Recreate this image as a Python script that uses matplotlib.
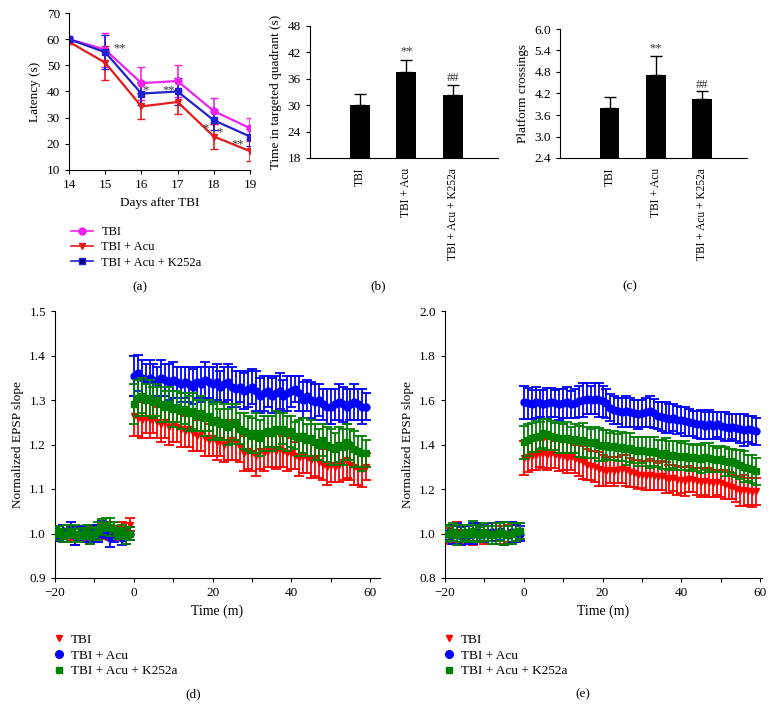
import numpy as np
import matplotlib.pyplot as plt
from matplotlib.lines import Line2D

plt.rcParams['font.family'] = ['Liberation Serif', 'DejaVu Serif']
plt.rcParams['font.size'] = 9

# ---- (a) latency ----
days = [14, 15, 16, 17, 18, 19]
lat_tbi = [60, 56, 43.2, 44, 32.5, 26]
lat_tbi_err = [1.0, 6.5, 6.3, 6.0, 5.0, 4.0]
lat_acu = [59, 51, 34.3, 36, 22.8, 17.2]
lat_acu_err = [1.0, 6.5, 5.0, 4.5, 4.7, 3.7]
lat_k252 = [60, 55, 39.2, 40, 29, 22.8]
lat_k252_err = [1.0, 6.5, 4.3, 5.0, 3.8, 3.7]

# ---- (b), (c) bars ----
groups = ["TBI", "TBI + Acu", "TBI + Acu + K252a"]
quad_time = [30.0, 37.6, 32.3]
quad_err = [2.5, 2.6, 2.3]
crossings = [3.8, 4.73, 4.05]
cross_err = [0.29, 0.51, 0.23]

# ---- (d), (e) LTP ----
t_base = np.arange(-20, 0)
t_post = np.arange(0, 60)

d_tbi_base = [1.0, 0.995, 1.005, 1.0, 1.0, 0.995, 1.0, 1.005, 1.0, 0.995,
              1.0, 1.0, 1.005, 1.01, 1.005, 1.0, 1.005, 1.01, 1.005, 1.02]
d_acu_base = [1.0, 0.995, 1.005, 1.0, 1.01, 0.995, 1.0, 1.005, 0.995, 1.0,
              1.005, 1.0, 1.01, 1.005, 0.99, 0.995, 1.0, 0.99, 0.995, 1.0]
d_k252_base = [1.0, 1.005, 0.995, 1.0, 1.005, 1.0, 0.995, 1.0, 1.005, 0.995,
               1.0, 1.005, 1.015, 1.02, 1.015, 1.01, 1.0, 1.005, 0.995, 1.0]
d_base_err = [0.015, 0.012, 0.015, 0.018, 0.015, 0.02, 0.015, 0.012, 0.015, 0.018,
              0.015, 0.02, 0.018, 0.015, 0.02, 0.015, 0.012, 0.015, 0.018, 0.015]

d_tbi = [1.265, 1.26, 1.255, 1.26, 1.255, 1.26, 1.25, 1.245, 1.25, 1.24,
         1.245, 1.24, 1.235, 1.23, 1.235, 1.225, 1.22, 1.225, 1.215, 1.21,
         1.215, 1.205, 1.21, 1.20, 1.205, 1.21, 1.205, 1.195, 1.18, 1.185,
         1.18, 1.175, 1.185, 1.18, 1.185, 1.19, 1.185, 1.19, 1.185, 1.18,
         1.18, 1.175, 1.17, 1.175, 1.17, 1.165, 1.17, 1.16, 1.155, 1.15,
         1.155, 1.15, 1.155, 1.16, 1.165, 1.155, 1.15, 1.145, 1.145, 1.15]
d_acu = [1.355, 1.36, 1.35, 1.345, 1.35, 1.345, 1.34, 1.35, 1.345, 1.34,
         1.345, 1.34, 1.335, 1.34, 1.335, 1.33, 1.34, 1.335, 1.345, 1.34,
         1.335, 1.34, 1.33, 1.335, 1.34, 1.33, 1.325, 1.33, 1.32, 1.325,
         1.33, 1.32, 1.31, 1.315, 1.32, 1.31, 1.315, 1.32, 1.31, 1.315,
         1.32, 1.325, 1.315, 1.30, 1.31, 1.30, 1.295, 1.30, 1.29, 1.285,
         1.285, 1.29, 1.295, 1.29, 1.285, 1.29, 1.295, 1.29, 1.285, 1.285]
d_k252 = [1.29, 1.305, 1.31, 1.30, 1.305, 1.295, 1.30, 1.29, 1.285, 1.29,
          1.28, 1.285, 1.275, 1.28, 1.27, 1.275, 1.265, 1.27, 1.26, 1.265,
          1.25, 1.255, 1.245, 1.25, 1.24, 1.245, 1.25, 1.235, 1.23, 1.225,
          1.22, 1.225, 1.215, 1.225, 1.23, 1.225, 1.235, 1.23, 1.235, 1.225,
          1.23, 1.22, 1.215, 1.22, 1.21, 1.215, 1.205, 1.20, 1.21, 1.20,
          1.195, 1.19, 1.20, 1.195, 1.205, 1.20, 1.19, 1.185, 1.18, 1.18]
d_post_err = [0.045, 0.04, 0.04, 0.035, 0.04, 0.035, 0.035, 0.04, 0.035, 0.04,
              0.04, 0.035, 0.04, 0.035, 0.04, 0.04, 0.035, 0.04, 0.04, 0.035,
              0.04, 0.04, 0.035, 0.04, 0.04, 0.045, 0.04, 0.035, 0.04, 0.04,
              0.04, 0.045, 0.04, 0.04, 0.035, 0.04, 0.04, 0.04, 0.035, 0.04,
              0.035, 0.03, 0.04, 0.04, 0.035, 0.04, 0.04, 0.035, 0.035, 0.04,
              0.04, 0.035, 0.04, 0.04, 0.04, 0.035, 0.04, 0.035, 0.04, 0.03]

e_tbi_base = [1.0, 0.99, 1.0, 1.005, 0.995, 1.0, 1.0, 0.995, 1.005, 1.0,
              0.995, 1.0, 1.005, 1.0, 0.995, 1.0, 1.0, 1.005, 1.0, 1.01]
e_acu_base = [1.0, 1.005, 0.995, 1.0, 0.99, 1.0, 0.995, 1.0, 1.005, 0.995,
              1.0, 1.0, 1.005, 1.0, 1.01, 1.0, 0.995, 1.005, 1.0, 1.0]
e_k252_base = [1.0, 1.0, 1.005, 0.995, 1.0, 1.005, 1.0, 1.01, 1.0, 0.995,
               1.005, 1.0, 0.995, 1.0, 1.005, 1.0, 0.995, 1.0, 1.005, 1.01]
e_base_err = [0.04, 0.035, 0.04, 0.045, 0.04, 0.035, 0.04, 0.045, 0.04, 0.035,
              0.04, 0.035, 0.04, 0.045, 0.04, 0.05, 0.04, 0.045, 0.04, 0.035]

e_tbi = [1.34, 1.345, 1.35, 1.355, 1.36, 1.36, 1.355, 1.36, 1.355, 1.35,
         1.35, 1.34, 1.345, 1.335, 1.33, 1.32, 1.31, 1.305, 1.30, 1.29,
         1.285, 1.28, 1.285, 1.28, 1.285, 1.29, 1.285, 1.275, 1.27, 1.265,
         1.265, 1.26, 1.265, 1.26, 1.255, 1.26, 1.25, 1.245, 1.25, 1.24,
         1.24, 1.235, 1.245, 1.24, 1.235, 1.23, 1.235, 1.23, 1.225, 1.23,
         1.225, 1.22, 1.215, 1.21, 1.20, 1.19, 1.195, 1.19, 1.185, 1.19]
e_acu = [1.59, 1.585, 1.58, 1.59, 1.585, 1.58, 1.585, 1.59, 1.585, 1.58,
         1.585, 1.59, 1.58, 1.585, 1.595, 1.60, 1.605, 1.60, 1.605, 1.60,
         1.595, 1.585, 1.565, 1.555, 1.55, 1.545, 1.55, 1.545, 1.54, 1.535,
         1.54, 1.545, 1.55, 1.54, 1.53, 1.525, 1.52, 1.515, 1.52, 1.51,
         1.51, 1.505, 1.50, 1.495, 1.49, 1.49, 1.485, 1.49, 1.485, 1.49,
         1.485, 1.48, 1.475, 1.48, 1.475, 1.47, 1.465, 1.47, 1.465, 1.46]
e_k252 = [1.41, 1.42, 1.43, 1.435, 1.44, 1.45, 1.445, 1.44, 1.435, 1.43,
          1.425, 1.43, 1.42, 1.425, 1.415, 1.42, 1.41, 1.405, 1.41, 1.40,
          1.395, 1.40, 1.39, 1.395, 1.385, 1.39, 1.38, 1.385, 1.375, 1.37,
          1.375, 1.37, 1.365, 1.37, 1.36, 1.355, 1.36, 1.35, 1.355, 1.35,
          1.345, 1.35, 1.34, 1.345, 1.34, 1.335, 1.345, 1.34, 1.335, 1.33,
          1.335, 1.325, 1.32, 1.325, 1.315, 1.31, 1.30, 1.295, 1.29, 1.28]
e_post_err = [0.075, 0.07, 0.065, 0.07, 0.06, 0.065, 0.07, 0.065, 0.06, 0.07,
              0.065, 0.07, 0.06, 0.065, 0.07, 0.075, 0.07, 0.065, 0.07, 0.075,
              0.07, 0.065, 0.06, 0.065, 0.06, 0.065, 0.07, 0.065, 0.06, 0.065,
              0.06, 0.065, 0.07, 0.065, 0.06, 0.065, 0.07, 0.065, 0.06, 0.065,
              0.06, 0.065, 0.06, 0.055, 0.06, 0.065, 0.06, 0.065, 0.06, 0.055,
              0.06, 0.065, 0.06, 0.055, 0.06, 0.065, 0.07, 0.06, 0.065, 0.06]

W, H = 775, 720
fig = plt.figure(figsize=(W / 100, H / 100), dpi=100)


def box(l, t, r, b):
    return [l / W, 1 - b / H, (r - l) / W, (b - t) / H]


def clean(ax):
    ax.spines['top'].set_visible(False)
    ax.spines['right'].set_visible(False)
    ax.tick_params(direction='out', length=3, width=0.8, labelsize=9.5)


# (a)
ax = fig.add_axes(box(69, 13, 250, 170))
ax.errorbar(days, lat_tbi, yerr=lat_tbi_err, color='#ee22ee', marker='o', ms=5,
            lw=1.6, capsize=3, elinewidth=1.2)
ax.errorbar(days, lat_acu, yerr=lat_acu_err, color='#e41a1c', marker='v', ms=4,
            lw=1.6, capsize=3, elinewidth=1.2)
ax.errorbar(days, lat_k252, yerr=lat_k252_err, color='#2020d0', marker='s', ms=4.5,
            lw=1.6, capsize=3, elinewidth=1.2)
ax.set_xlim(14, 19)
ax.set_ylim(10, 70)
ax.set_yticks(range(10, 71, 10))
ax.set_xticks(days)
ax.set_xlabel("Days after TBI", fontsize=9.5)
ax.set_ylabel("Latency (s)", fontsize=9.5)
clean(ax)
for x, y, s in [(15.4, 56.5, "**"), (16.12, 40.5, "*"), (16.74, 40.5, "**"),
                (17.76, 26, "*"), (18.17, 24.5, "*"), (18.65, 20, "**")]:
    ax.text(x, y, s, fontsize=9, ha='center', va='center', color='#333333')
handles = [Line2D([], [], color='#ee22ee', marker='o', ms=5, lw=1.2),
           Line2D([], [], color='#e41a1c', marker='v', ms=4, lw=1.2),
           Line2D([], [], color='#2020d0', marker='s', ms=5, mfc='#000080', mec='#2020d0', lw=1.2)]
fig.legend(handles, groups, loc='upper left', bbox_to_anchor=(60 / W, 1 - 215 / H),
           frameon=False, fontsize=9, handlelength=1.7, handletextpad=0.7, labelspacing=0.25)
fig.text(140 / W, 1 - 287 / H, "(a)", ha='center', va='center', fontsize=9.5)

# (b) and (c)
for rect, vals, errs, ylim, yt, ylab, marks, lab, lx in [
        (box(310, 26, 498, 158), quad_time, quad_err, (18, 48), np.arange(18, 49, 6),
         "Time in targeted quadrant (s)", (42.2, 36.2), "(b)", 378),
        (box(560, 29, 747, 158), crossings, cross_err, (2.4, 6.0), np.arange(2.4, 6.01, 0.6),
         "Platform crossings", (5.45, 4.45), "(c)", 630)]:
    ax = fig.add_axes(rect)
    x = np.arange(len(groups))
    ax.bar(x, [v - ylim[0] for v in vals], bottom=ylim[0], width=0.43, color='black')
    ax.errorbar(x, vals, yerr=[[0] * 3, errs], fmt='none', ecolor='black',
                capsize=4, elinewidth=1)
    ax.set_xlim(-1.07, 2.97)
    ax.set_ylim(*ylim)
    ax.set_yticks(yt)
    if ylim[0] < 10:
        ax.set_yticklabels(["%.1f" % v for v in yt])
    ax.set_xticks(x)
    ax.set_xticklabels(groups, rotation=90)
    ax.set_ylabel(ylab, fontsize=9.5)
    clean(ax)
    ax.tick_params(axis='x', length=0, pad=7, labelsize=8.3)
    ax.text(1, marks[0], "**", ha='center', va='center', fontsize=9, color='#333333')
    ax.text(2, marks[1], "##", ha='center', va='center', fontsize=9, color='#333333')
    fig.text(lx / W, 1 - 286 / H, lab, ha='center', va='center', fontsize=9.5)

# (d) and (e)
ltp = [
    (box(55, 311, 380, 578), (-20, 62.5), (0.9, 1.5), np.arange(0.9, 1.51, 0.1),
     [(d_tbi_base, d_tbi), (d_acu_base, d_acu), (d_k252_base, d_k252)],
     d_base_err, d_post_err, "(d)", 193, 55),
    (box(445, 311, 762, 578), (-20, 60.5), (0.8, 2.0), np.arange(0.8, 2.01, 0.2),
     [(e_tbi_base, e_tbi), (e_acu_base, e_acu), (e_k252_base, e_k252)],
     e_base_err, e_post_err, "(e)", 583, 445),
]
styles = [('#ff0000', 'v', 4.5), ('#0000ff', 'o', 5), ('#008000', 's', 4)]
for rect, xlim, ylim, yt, series, berr, perr, lab, lx, left in ltp:
    ax = fig.add_axes(rect)
    for k in [0, 1, 2]:
        c, m, ms = styles[k]
        base, post = series[k]
        ax.errorbar(np.concatenate([t_base, t_post]), list(base) + list(post),
                    yerr=list(berr) + list(perr), fmt=m, color=c, ms=ms,
                    capsize=3.5, elinewidth=1.3, capthick=1.3, zorder=2 + k)
    ax.set_xlim(*xlim)
    ax.set_ylim(*ylim)
    ax.set_yticks(yt)
    ax.set_yticklabels(["%.1f" % v for v in yt])
    ax.set_xticks([-20, 0, 20, 40, 60])
    ax.set_xticklabels(["\u221220", "0", "20", "40", "60"])
    ax.set_xticks([-10, 10, 30, 50], minor=True)
    ax.tick_params(axis='x', which='minor', direction='out', length=3, width=0.8)
    ax.set_xlabel("Time (m)", fontsize=10)
    ax.set_ylabel("Normalized EPSP slope", fontsize=9.5)
    clean(ax)
    hs = [Line2D([], [], ls='none', marker=styles[k][1], color=styles[k][0], ms=styles[k][2] + 0.5)
          for k in range(3)]
    fig.legend(hs, groups, loc='upper left', bbox_to_anchor=((left - 13) / W, 1 - 622 / H),
               frameon=False, fontsize=9.5, handlelength=0.8, handletextpad=0.5,
               labelspacing=0.25)
    fig.text(lx / W, 1 - 694 / H, lab, ha='center', va='center', fontsize=9.5)

fig.savefig("out.png", dpi=100)
